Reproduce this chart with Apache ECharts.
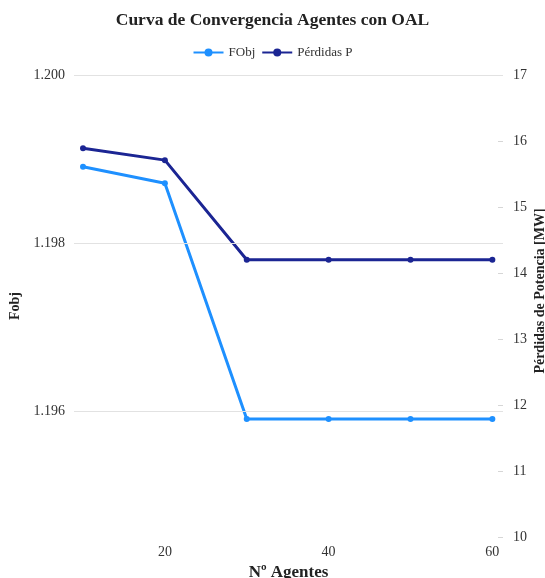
<!DOCTYPE html>
<html>
<head>
<meta charset="utf-8">
<script src="https://cdn.jsdelivr.net/npm/echarts@6/dist/echarts.min.js"></script>
<style>
  html, body { margin: 0; padding: 0; background: #fff; }
  #chart { width: 545px; height: 578px; }
</style>
</head>
<body>
<div id="chart"></div>
<script>
// datos
var agentes = [10, 20, 30, 40, 50, 60];
var fobj = [1.198908, 1.198711, 1.195905, 1.195905, 1.195905, 1.195905];
var perdidas = [15.89, 15.71, 14.20, 14.20, 14.20, 14.20];
var xTicks = [20, 40, 60];
var fobjTicks = [1.196, 1.198, 1.200];

var serif = '"Liberation Serif", "DejaVu Serif", serif';
var cFobj = '#1E90FF';
var cPerd = '#1B2593';

function pares(xs, ys) {
  return xs.map(function (x, i) { return [x, ys[i]]; });
}

var chart = echarts.init(document.getElementById('chart'));
var option = {
  backgroundColor: '#fff',
  animation: false,
  title: {
    text: 'Curva de Convergencia Agentes con OAL',
    left: 'center',
    top: 6,
    textStyle: { fontFamily: serif, fontSize: 17.5, fontWeight: 'bold', color: '#222' }
  },
  legend: {
    top: 41,
    left: 'center',
    itemWidth: 30,
    itemHeight: 10,
    itemGap: 6,
    textStyle: { fontFamily: serif, fontSize: 13, color: '#333' },
    data: ['FObj', 'Pérdidas P']
  },
  grid: { left: 74, right: 42, top: 75, bottom: 41, outerBoundsMode: 'none' },
  xAxis: {
    type: 'value',
    min: 8.9,
    max: 61.3,
    name: 'Nº Agentes',
    nameLocation: 'middle',
    nameGap: 25,
    nameTextStyle: { fontFamily: serif, fontSize: 17, fontWeight: 'bold', color: '#222' },
    axisLine: { show: false },
    axisTick: { show: false },
    splitLine: { show: false },
    axisLabel: {
      customValues: xTicks,
      margin: 8,
      fontFamily: serif, fontSize: 14, color: '#333'
    }
  },
  yAxis: [{
    type: 'value',
    min: 1.1945,
    max: 1.200,
    name: 'Fobj',
    nameLocation: 'middle',
    nameGap: 52,
    nameTextStyle: { fontFamily: serif, fontSize: 14, fontWeight: 'bold', color: '#222' },
    axisLine: { show: false },
    axisTick: { show: false },
    axisLabel: {
      customValues: fobjTicks,
      margin: 9,
      fontFamily: serif, fontSize: 14, color: '#333',
      formatter: function (v) { return v.toFixed(3); }
    },
    splitLine: { show: false }
  }, {
    type: 'value',
    position: 'right',
    min: 10,
    max: 17,
    interval: 1,
    name: 'Pérdidas de Potencia [MW]',
    nameLocation: 'middle',
    nameGap: 30,
    nameMoveOverlap: false,
    nameTextStyle: {
      fontFamily: serif, fontSize: 14, fontWeight: 'bold', color: '#222',
      padding: [0, 0, 0, 30]
    },
    axisLine: { show: false },
    axisTick: { show: true, inside: true, length: 5, lineStyle: { color: '#d6d6d6' } },
    axisLabel: { margin: 10, fontFamily: serif, fontSize: 14, color: '#333' },
    splitLine: { show: false }
  }],
  series: [{
    name: 'FObj',
    type: 'line',
    yAxisIndex: 0,
    data: pares(agentes, fobj),
    symbol: 'circle',
    symbolSize: 6,
    lineStyle: { width: 3, color: cFobj },
    itemStyle: { color: cFobj },
    z: 3,
    // líneas de cuadrícula del eje izquierdo
    markLine: {
      silent: true,
      symbol: 'none',
      label: { show: false },
      precision: 4,
      lineStyle: { color: '#e2e2e2', width: 1, type: 'solid' },
      emphasis: { disabled: true },
      data: [
        { yAxis: fobjTicks[0] },
        { yAxis: fobjTicks[1] },
        { yAxis: fobjTicks[2] }
      ]
    }
  }, {
    name: 'Pérdidas P',
    type: 'line',
    yAxisIndex: 1,
    data: pares(agentes, perdidas),
    symbol: 'circle',
    symbolSize: 6,
    lineStyle: { width: 3, color: cPerd },
    itemStyle: { color: cPerd },
    z: 3
  }]
};
chart.setOption(option);
</script>
</body>
</html>
